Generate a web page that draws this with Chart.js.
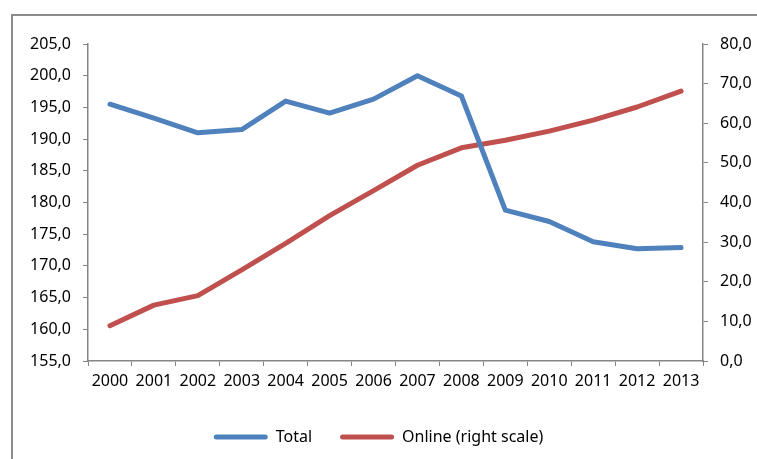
<!DOCTYPE html>
<html>
<head>
<meta charset="utf-8">
<script src="https://cdn.jsdelivr.net/npm/chart.js@4"></script>
<style>
  body { margin: 0; background: #fff; overflow: hidden; }
  #wrap { position: relative; width: 757px; height: 459px; }
  #frame {
    position: absolute; left: 11px; top: 14px; width: 800px; height: 500px;
    border-left: 2px solid #8c8c8c; border-top: 2px solid #8c8c8c;
  }
  canvas { position: absolute; left: 0; top: 0; }
</style>
</head>
<body>
<div id="wrap">
  <div id="frame"></div>
  <canvas id="chart" width="757" height="459"></canvas>
</div>
<script>
// years on the x axis
const years = ["2000", "2001", "2002", "2003", "2004", "2005", "2006",
  "2007", "2008", "2009", "2010", "2011", "2012", "2013"]
// left scale
const total = [195.5, 193.3, 191.0, 191.5, 196.0, 194.1, 196.3,
  200.0, 196.8, 178.8, 177.0, 173.8, 172.7, 172.9]
// right scale
const online = [8.9, 14.1, 16.5, 23.0, 29.7, 36.7, 43.0,
  49.4, 53.8, 55.7, 58.0, 60.8, 64.1, 68.1]

const AXIS = "#868686"
const FONT = { family: "'Noto Sans', sans-serif", size: 16 }

function comma(v) {
  return Number(v).toFixed(1).replace(".", ",")
}

// legend swatches without the thick dataset border
function legendLabels(chart) {
  return Chart.defaults.plugins.legend.labels.generateLabels(chart)
    .map((l) => ({ ...l, lineWidth: 0 }))
}

const config = {
  type: "line",
  data: {
    labels: years,
    datasets: [
      {
        label: "Total",
        data: total,
        yAxisID: "y",
        borderColor: "#4F81BD",
        backgroundColor: "#4F81BD",
        borderWidth: 5,
        pointRadius: 0,
        borderCapStyle: "round",
        borderJoinStyle: "round",
        tension: 0,
      },
      {
        label: "Online (right scale)",
        data: online,
        yAxisID: "y1",
        borderColor: "#C0504D",
        backgroundColor: "#C0504D",
        borderWidth: 5,
        pointRadius: 0,
        borderCapStyle: "round",
        borderJoinStyle: "round",
        tension: 0,
      },
    ],
  },
  options: {
    responsive: false,
    animation: false,
    layout: { padding: { top: 44, bottom: 4, left: 0, right: 0 } },
    scales: {
      x: {
        offset: true,
        grid: { offset: true, drawOnChartArea: false, color: AXIS, tickLength: 5 },
        border: { color: AXIS, width: 1.5 },
        ticks: { color: "#000", font: FONT, padding: 6, maxRotation: 0, autoSkip: false },
        afterFit: (s) => { s.height = 40 },
      },
      y: {
        position: "left",
        min: 155,
        max: 205,
        ticks: { stepSize: 5, color: "#000", font: FONT, padding: 12, callback: comma },
        grid: { drawOnChartArea: false, color: AXIS, tickLength: 5 },
        border: { color: AXIS, width: 1.5 },
        afterFit: (s) => { s.width = 88 },
      },
      y1: {
        position: "right",
        min: 0,
        max: 80,
        ticks: { stepSize: 10, color: "#000", font: FONT, padding: 12, callback: comma },
        grid: { drawOnChartArea: false, color: AXIS, tickLength: 5 },
        border: { color: AXIS, width: 1.5 },
        afterFit: (s) => { s.width = 54 },
      },
    },
    plugins: {
      legend: {
        position: "bottom",
        labels: {
          color: "#000",
          font: FONT,
          boxWidth: 54,
          boxHeight: 5,
          useBorderRadius: true,
          borderRadius: 2.5,
          padding: 28,
          generateLabels: legendLabels,
        },
      },
      tooltip: { enabled: false },
    },
  },
}

new Chart(document.getElementById("chart"), config)
</script>
</body>
</html>
